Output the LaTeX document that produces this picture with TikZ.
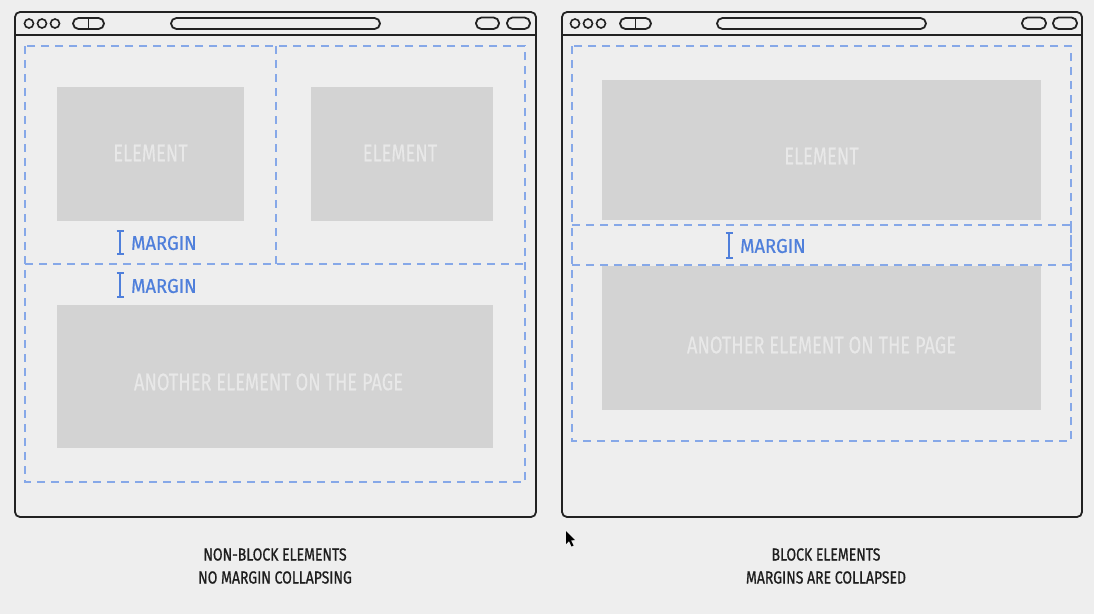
\documentclass[tikz,border=0pt]{standalone}
\usepackage{fontspec}
\setmainfont[FakeStretch=0.8]{Fira Sans}
\newfontfamily\elemfont[FakeStretch=0.76, FakeBold=0.3]{Fira Sans}
\newfontfamily\marginfont[FakeStretch=0.92, FakeBold=0.6]{Fira Sans}
\newfontfamily\capfont[FakeStretch=0.8, FakeBold=0.8]{Fira Sans}
\usetikzlibrary{arrows.meta}
\definecolor{bg}{HTML}{EEEEEE}
\definecolor{frame}{HTML}{222222}
\definecolor{elemfill}{HTML}{D3D3D3}
\definecolor{elemtext}{HTML}{E8E8E8}
\definecolor{dashblue}{HTML}{86A8E8}
\definecolor{marginblue}{HTML}{4F7FDB}
\definecolor{captext}{HTML}{1E1E1E}
\tikzset{
  win/.style={draw=frame, line width=1.8pt, rounded corners=5pt},
  bar/.style={draw=frame, line width=1.8pt},
  pill/.style={draw=frame, line width=1.8pt, rounded corners=5.5pt},
  dot/.style={draw=frame, line width=1.6pt},
  dashbox/.style={draw=dashblue, line width=1.4pt, dash pattern=on 8pt off 6pt},
  elem/.style={fill=elemfill, inner sep=0pt},
  elemlabel/.style={text=elemtext, inner sep=0pt, font=\elemfont\fontsize{24}{28}\selectfont},
  mlabel/.style={text=marginblue, inner sep=0pt, anchor=west, font=\marginfont\fontsize{20}{24}\selectfont},
  ibeam/.style={draw=marginblue, line width=2pt, {Bar[width=7pt,line width=2pt]}-{Bar[width=7pt,line width=2pt]}},
  caption/.style={text=captext, align=center, inner sep=0pt, font=\capfont\fontsize{17.5}{23}\selectfont},
}
\begin{document}
\begin{tikzpicture}[x=1pt,y=-1pt]
  \fill[bg] (0,0) rectangle (1094,614);
  \useasboundingbox (0,0) rectangle (1094,614);

  % ---------- left browser window ----------
  \draw[win] (15,12) rectangle (536,517);
  \draw[bar] (15,35) -- (536,35);
  \foreach \cx in {29,42,55} \draw[dot] (\cx,23.5) circle (4.5pt);
  \draw[pill] (73,18) rectangle (104,29);
  \draw[bar, line width=1.5pt] (88.5,18) -- (88.5,29);
  \draw[pill] (171,18) rectangle (380,29);
  \draw[pill] (476,17.5) rectangle (499,29);
  \draw[pill] (507,17.5) rectangle (530,29);

  % margin boxes
  \draw[dashbox] (25,46) rectangle (525,482);
  \draw[dashbox] (276,46) -- (276,264);
  \draw[dashbox] (25,264) -- (525,264);

  % elements
  \node[elem, minimum width=187pt, minimum height=134pt] (e1) at (150.5,154) {};
  \node[elemlabel] (t1) at (150.5,153) {ELEMENT};
  \node[elem, minimum width=182pt, minimum height=134pt] (e2) at (402,154) {};
  \node[elemlabel] (t2) at (400,153) {ELEMENT};
  \node[elem, minimum width=436pt, minimum height=143pt] (e3) at (275,376.5) {};
  \node[elemlabel] (t3) at (268.5,382) {ANOTHER ELEMENT ON THE PAGE};

  % margin indicators
  \coordinate (m1t) at (120,230); \coordinate (m1b) at (120,255);
  \draw[ibeam] (m1t) -- (m1b);
  \node[mlabel] (m1) at (131,243) {MARGIN};
  \coordinate (m2t) at (120,272); \coordinate (m2b) at (120,298);
  \draw[ibeam] (m2t) -- (m2b);
  \node[mlabel] (m2) at (131,286) {MARGIN};

  \node[caption] (c1) at (275,566) {NON-BLOCK ELEMENTS\\NO MARGIN COLLAPSING};

  % ---------- right browser window ----------
  \draw[win] (562,12) rectangle (1082,517);
  \draw[bar] (562,35) -- (1082,35);
  \foreach \cx in {575,588,601} \draw[dot] (\cx,23.5) circle (4.5pt);
  \draw[pill] (620,18) rectangle (651,29);
  \draw[bar, line width=1.5pt] (635.5,18) -- (635.5,29);
  \draw[pill] (717,18) rectangle (926,29);
  \draw[pill] (1022,17.5) rectangle (1046,29);
  \draw[pill] (1053,17.5) rectangle (1077,29);

  % elements
  \node[elem, minimum width=439pt, minimum height=140pt] (e4) at (821.5,150) {};
  \node[elemlabel] (t4) at (821.5,156) {ELEMENT};
  \node[elem, minimum width=439pt, minimum height=144pt] (e5) at (821.5,338) {};
  \node[elemlabel] (t5) at (821.5,345) {ANOTHER ELEMENT ON THE PAGE};

  % margin boxes
  \draw[dashbox] (572,46) rectangle (1071,441);
  \draw[dashbox] (572,225) -- (1071,225);
  \draw[dashbox] (572,265) -- (1071,265);
  \draw[dashbox] (1071,225) -- (1071,265);

  \coordinate (m3t) at (729,232); \coordinate (m3b) at (729,259);
  \draw[ibeam] (m3t) -- (m3b);
  \node[mlabel] (m3) at (740,246) {MARGIN};

  \node[caption] (c2) at (826,566) {BLOCK ELEMENTS\\MARGINS ARE COLLAPSED};

  % mouse pointer
  \fill[black] (566,531) -- (566,544) -- (569,541) -- (571.5,546.5) -- (573.5,545.5) -- (571,540.5) -- (575,540) -- cycle;
\end{tikzpicture}
\end{document}
